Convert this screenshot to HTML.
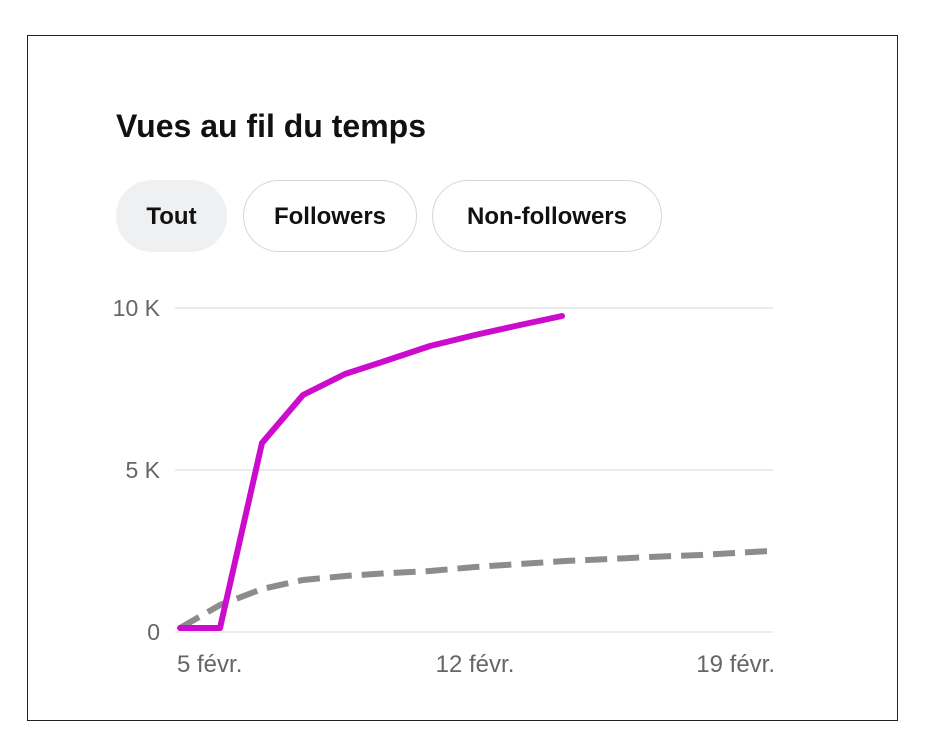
<!DOCTYPE html>
<html><head><meta charset="utf-8"><style>
body{margin:0;width:925px;height:756px;background:#fff;font-family:"Liberation Sans",sans-serif;position:relative;overflow:hidden}
.frame{position:absolute;left:27px;top:35px;width:869px;height:684px;border:1px solid #222}
.title{position:absolute;left:116px;top:108px;font-size:32px;font-weight:bold;color:#111}
.pill{position:absolute;top:180px;height:72px;border-radius:36px;font-size:24px;font-weight:bold;color:#111;display:flex;align-items:center;justify-content:center;box-sizing:border-box;padding-top:2px}
</style></head><body>
<div class="frame"></div>
<div class="title">Vues au fil du temps</div>
<div class="pill" style="left:116px;width:111px;background:#eff0f2">Tout</div>
<div class="pill" style="left:243px;width:174px;border:1.5px solid #d8d8d8">Followers</div>
<div class="pill" style="left:432px;width:230px;border:1.5px solid #d8d8d8">Non-followers</div>
<svg width="925" height="756" style="position:absolute;left:0;top:0">
<g stroke="#e6e6e6" stroke-width="1.5">
<line x1="175" y1="308" x2="773" y2="308"/><line x1="175" y1="470" x2="773" y2="470"/><line x1="175" y1="632" x2="773" y2="632"/></g>
<g font-family="Liberation Sans,sans-serif" font-size="23" fill="#666">
<text x="160" y="316" text-anchor="end">10 K</text>
<text x="160" y="478" text-anchor="end">5 K</text>
<text x="160" y="640" text-anchor="end">0</text></g>
<g font-family="Liberation Sans,sans-serif" font-size="24" fill="#666">
<text x="177" y="672">5 févr.</text>
<text x="475" y="672" text-anchor="middle">12 févr.</text>
<text x="775" y="672" text-anchor="end">19 févr.</text></g>
<polyline fill="none" stroke="#8c8c8c" stroke-width="6" stroke-dasharray="22 10" points="180,628 220,605 262,589 303,580 345,576 390,573 430,571 475,567 520,564 565,561 610,559 650,557 700,555 770,551"/>
<polyline fill="none" stroke="#cc0ccc" stroke-width="6" stroke-linecap="round" stroke-linejoin="round" points="180,628 220,628 262,443 303,395 345,374 385,361 430,346 475,335 520,325 562,316"/>
</svg>
</body></html>
